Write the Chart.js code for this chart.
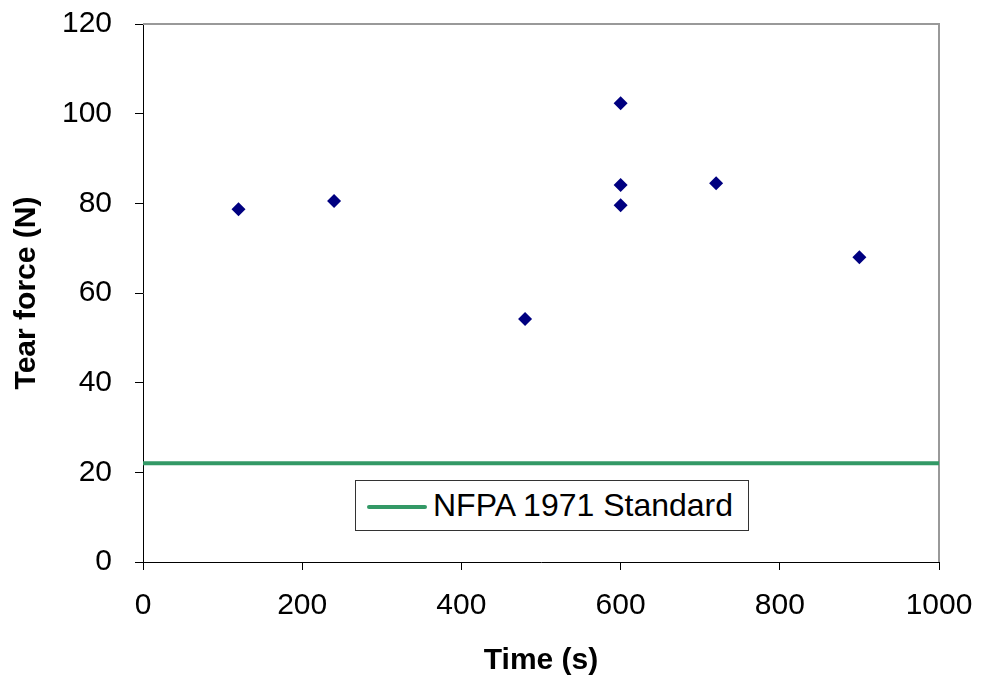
<!DOCTYPE html>
<html>
<head>
<meta charset="utf-8">
<script src="https://cdn.jsdelivr.net/npm/chart.js@4.4.1/dist/chart.umd.min.js"></script>
<style>
  body { margin: 0; background: #fff; }
  #wrap { position: relative; width: 984px; height: 683px; }
  #legend {
    position: absolute; left: 355px; top: 480px; width: 394px; height: 51px;
    border: 1px solid #333; background: #fff; box-sizing: border-box;
    font-family: Arial, "Liberation Sans", sans-serif; font-size: 32px; color: #000;
  }
  #legend .swatch {
    position: absolute; left: 11px; top: 24px; width: 60px; height: 4px; background: #339966;
    border-radius: 2px;
  }
  #legend .label { position: absolute; left: 77px; top: 6px; white-space: nowrap; }
</style>
</head>
<body>
<div id="wrap">
  <canvas id="myChart" width="984" height="683"></canvas>
  <div id="legend"><span class="swatch"></span><span class="label">NFPA 1971 Standard</span></div>
</div>
<script>
// Mesures de force de déchirure
const timeSec = [120, 240, 480, 600, 600, 600, 720, 900];
const tearForce = [78.7, 80.5, 54.2, 102.3, 84.1, 79.6, 84.5, 68.0];

// Valeur minimale de la norme NFPA 1971
const standardX = [0, 1000];
const standardY = [22, 22];

const xTicks = [0, 200, 400, 600, 800, 1000];
const yTicks = [0, 20, 40, 60, 80, 100, 120];

const fontFamily = 'Arial, "Liberation Sans", sans-serif';

// Bordure grise en haut et à droite de la zone de tracé
const plotFrame = {
    id: 'plotFrame',
    beforeDatasetsDraw(chart) {
        const { ctx, chartArea: a } = chart;
        ctx.save();
        ctx.strokeStyle = '#999';
        ctx.lineWidth = 2;
        ctx.beginPath();
        ctx.moveTo(a.left, a.top);
        ctx.lineTo(a.right, a.top);
        ctx.lineTo(a.right, a.bottom);
        ctx.stroke();
        ctx.restore();
    }
};

const ctx = document.getElementById('myChart').getContext('2d');
const myChart = new Chart(ctx, {
    type: 'scatter',
    data: {
        datasets: [{
            label: 'Tear force',
            data: timeSec.map((t, i) => ({ x: t, y: tearForce[i] })),
            pointStyle: 'rectRot',
            pointRadius: 7,
            pointHoverRadius: 7,
            backgroundColor: '#000080',
            borderColor: '#000080',
            borderWidth: 0
        }, {
            label: 'NFPA 1971 Standard',
            type: 'line',
            data: standardX.map((t, i) => ({ x: t, y: standardY[i] })),
            borderColor: '#339966',
            borderWidth: 4,
            pointRadius: 0,
            fill: false
        }]
    },
    options: {
        responsive: false,
        animation: false,
        layout: { padding: { left: 0, top: 24, right: 45, bottom: 0 } },
        plugins: {
            legend: { display: false },
            tooltip: { enabled: false }
        },
        scales: {
            x: {
                type: 'linear',
                min: 0,
                max: 1000,
                afterFit(scale) {
                    scale.height = 121;
                    scale.paddingLeft = 0;
                    scale.paddingRight = 0;
                },
                afterBuildTicks(scale) { scale.ticks = xTicks.map(v => ({ value: v })); },
                grid: { drawOnChartArea: false, tickLength: 8, color: '#000' },
                border: { color: '#000', width: 1 },
                ticks: {
                    padding: 18,
                    color: '#000',
                    maxRotation: 0,
                    callback: v => String(v),
                    font: { family: fontFamily, size: 30 }
                },
                title: {
                    display: true,
                    text: 'Time (s)',
                    color: '#000',
                    padding: { top: 0, bottom: 4 },
                    font: { family: fontFamily, size: 30, weight: 'bold' }
                }
            },
            y: {
                min: 0,
                max: 120,
                afterFit(scale) {
                    scale.width = 143;
                    scale.paddingTop = 0;
                    scale.paddingBottom = 0;
                },
                afterBuildTicks(scale) { scale.ticks = yTicks.map(v => ({ value: v })); },
                grid: { drawOnChartArea: false, tickLength: 8, color: '#000' },
                border: { color: '#000', width: 1 },
                ticks: {
                    padding: 23,
                    color: '#000',
                    callback: v => String(v),
                    font: { family: fontFamily, size: 30 }
                },
                title: {
                    display: true,
                    text: 'Tear force (N)',
                    color: '#000',
                    padding: { top: 9, bottom: 0 },
                    font: { family: fontFamily, size: 30, weight: 'bold' }
                }
            }
        }
    },
    plugins: [plotFrame]
});
</script>
</body>
</html>
